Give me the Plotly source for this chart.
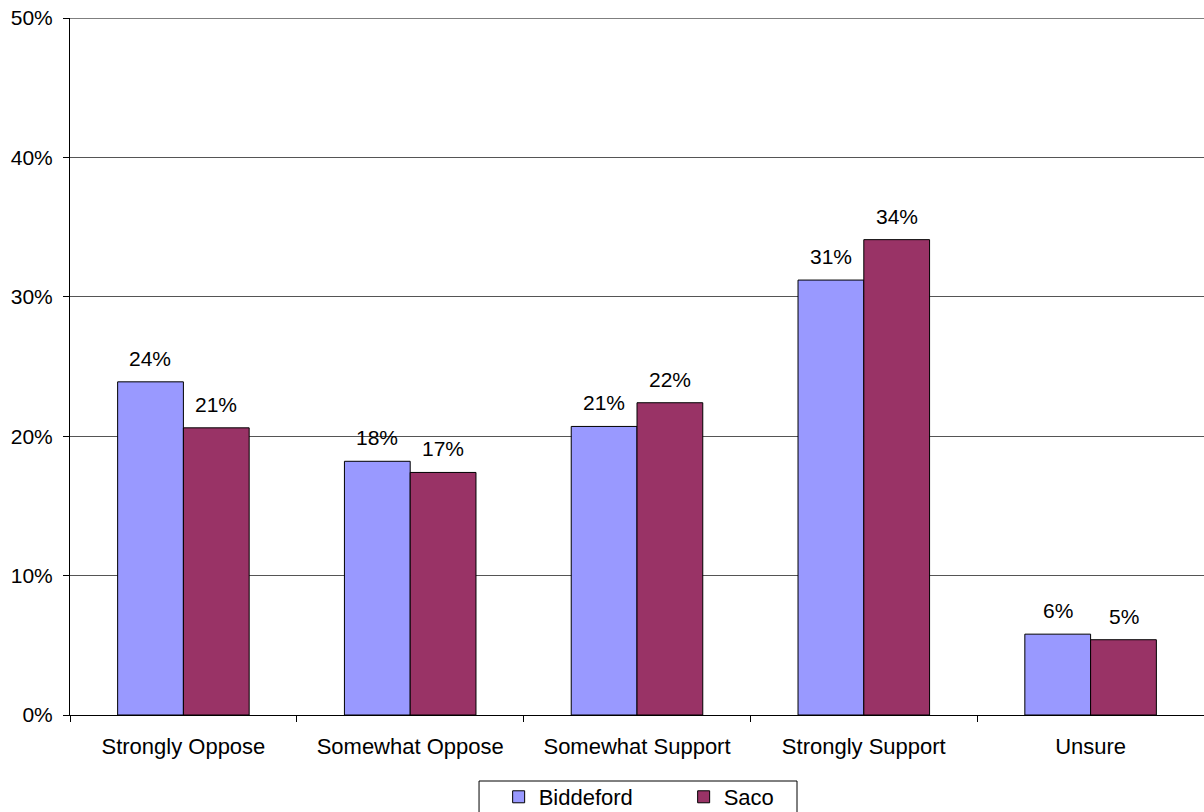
import plotly.graph_objects as go

categories = ["Strongly Oppose", "Somewhat Oppose", "Somewhat Support", "Strongly Support", "Unsure"]
biddeford = [23.9, 18.2, 20.7, 31.2, 5.8]
saco = [20.6, 17.4, 22.4, 34.1, 5.4]

def labels(vals):
    return [f"{int(v + 0.5)}%" for v in vals]

FONT = "Liberation Sans, Arial, sans-serif"

fig = go.Figure()
fig.add_trace(go.Bar(
    name="Biddeford", x=categories, y=biddeford,
    marker=dict(color="#9999FF", line=dict(color="black", width=1)),
))
fig.add_trace(go.Bar(
    name="Saco", x=categories, y=saco,
    marker=dict(color="#993366", line=dict(color="black", width=1)),
))

annotations = []
for vals, dx in ((biddeford, -33), (saco, 33)):
    for c, v, t in zip(categories, vals, labels(vals)):
        annotations.append(dict(
            x=c, y=v, xref="x", yref="y", text=t, showarrow=False,
            xshift=dx, yshift=10, yanchor="bottom", xanchor="center",
            font=dict(size=21, color="black", family=FONT),
        ))

fig.update_layout(
    width=1204, height=812,
    margin=dict(l=70, r=0, t=18, b=97, autoexpand=False),
    barmode="group", bargap=0.42, bargroupgap=0,
    plot_bgcolor="white", paper_bgcolor="white",
    font=dict(family=FONT, size=21, color="black"),
    showlegend=True,
    legend=dict(
        orientation="h", x=0.378, xanchor="left", y=-0.0875, yanchor="top",
        borderwidth=0, bgcolor="rgba(0,0,0,0)", font=dict(size=22),
        entrywidth=140, itemwidth=30,
    ),
    xaxis=dict(
        showline=True, linecolor="black", linewidth=1,
        ticks="outside", tickson="boundaries", ticklen=6, tickcolor="black",
        tickfont=dict(size=22), automargin=False, ticklabelstandoff=12,
    ),
    yaxis=dict(
        range=[0, 50], dtick=10, ticksuffix="%",
        showline=True, linecolor="black", linewidth=1,
        ticks="outside", ticklen=6, tickcolor="black",
        showgrid=True, gridcolor="#555555", gridwidth=1,
        zeroline=False, tickfont=dict(size=21), automargin=False,
        ticklabelstandoff=6,
    ),
    annotations=annotations,
    shapes=[
        dict(type="line", xref="paper", x0=0, x1=1, yref="y", y0=50, y1=50,
             line=dict(color="black", width=1)),
        dict(type="rect", xref="paper", yref="paper",
             x0=0.3607, x1=0.6411, y0=-0.0947, y1=-0.2,
             line=dict(color="black", width=1), fillcolor="rgba(0,0,0,0)"),
    ],
)

fig.write_html("out.html", config={"displayModeBar": False},
               post_script="document.body.style.margin='0';")
